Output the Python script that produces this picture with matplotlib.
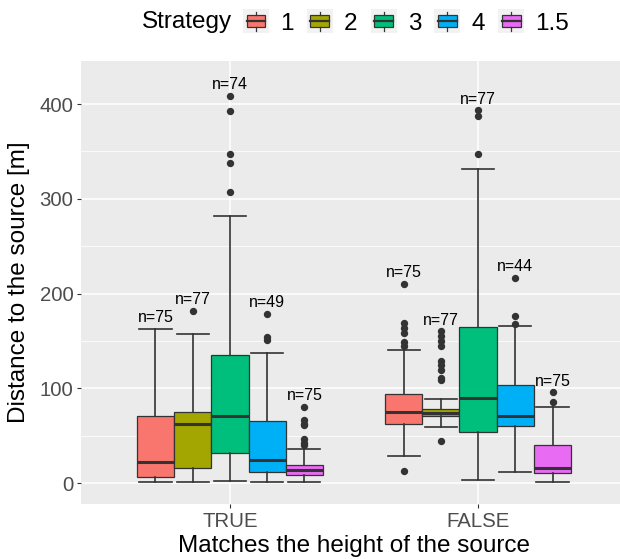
import matplotlib.pyplot as plt
from matplotlib.patches import Patch, Rectangle
from matplotlib.lines import Line2D
from matplotlib.legend_handler import HandlerBase
from matplotlib.ticker import MultipleLocator

plt.rcParams['font.family'] = ['Liberation Sans', 'DejaVu Sans']

groups = ['TRUE', 'FALSE']
strategies = ['1', '2', '3', '4', '1.5']
colors = ['#F8766D', '#A3A500', '#00BF7D', '#00B0F6', '#E76BF3']

# box summaries per group (order follows strategies)
true_q1 = [5.9, 15.8, 31.6, 11.9, 8.4]
true_med = [21.8, 62.6, 70.3, 24.6, 13.3]
true_q3 = [71.0, 74.5, 135.0, 65.0, 19.3]
true_lo = [0.7, 1.4, 2.1, 1.0, 1.0]
true_hi = [163.1, 157.8, 282.3, 137.4, 35.9]
true_out = [
    [],
    [182.0],
    [408.9, 392.7, 347.0, 337.6, 307.6],
    [178.9, 154.7, 151.2],
    [80.5, 66.8, 62.2, 61.0, 46.4, 42.2, 40.0],
]
true_n = [75, 77, 74, 49, 75]

false_q1 = [62.6, 70.7, 53.8, 60.4, 10.5]
false_med = [74.5, 73.8, 89.6, 70.3, 15.8]
false_q3 = [94.2, 78.7, 164.9, 103.0, 40.4]
false_lo = [28.1, 59.7, 2.8, 11.6, 1.0]
false_hi = [140.9, 88.6, 331.9, 166.3, 80.5]
false_out = [
    [210.2, 168.8, 163.5, 158.2, 149.4, 144.8, 13.0],
    [160.3, 155.4, 150.1, 145.2, 129.0, 124.8, 119.5, 110.7, 108.3, 44.6],
    [393.4, 387.8, 347.0],
    [216.9, 176.5, 168.0],
    [95.6, 85.8],
]
false_n = [75, 77, 77, 44, 75]

summaries = {
    'TRUE': (true_q1, true_med, true_q3, true_lo, true_hi, true_out, true_n),
    'FALSE': (false_q1, false_med, false_q3, false_lo, false_hi, false_out, false_n),
}

dark = '#333333'
fig = plt.figure(figsize=(6.2, 5.59), dpi=100)
ax = fig.add_axes([81 / 620, 1 - 504.3 / 559, 546 / 620, 443.6 / 559])
ax.set_facecolor('#EBEBEB')
for s in ax.spines.values():
    s.set_visible(False)

width = 0.15
for gi, g in enumerate(groups):
    q1, med, q3, lo, hi, out, n = summaries[g]
    stats = []
    pos = []
    for i in range(len(strategies)):
        stats.append(dict(q1=q1[i], med=med[i], q3=q3[i], whislo=lo[i],
                          whishi=hi[i], fliers=out[i]))
        pos.append(gi + 1 + (i - 2) * width)
    art = ax.bxp(stats, positions=pos, widths=width, capwidths=0.13,
                 patch_artist=True, showfliers=True,
                 boxprops=dict(edgecolor=dark, linewidth=0.9),
                 medianprops=dict(color=dark, linewidth=2.2, solid_capstyle='butt'),
                 whiskerprops=dict(color=dark, linewidth=1.2),
                 capprops=dict(color=dark, linewidth=1.2),
                 flierprops=dict(marker='o', markerfacecolor=dark,
                                 markeredgecolor='none', markersize=5.3),
                 manage_ticks=False, zorder=3)
    for patch, c in zip(art['boxes'], colors):
        patch.set_facecolor(c)
    for i in range(len(strategies)):
        top = max([hi[i]] + out[i])
        ax.annotate(f'n={n[i]}', (pos[i], top), xytext=(0, 8),
                    textcoords='offset points', ha='center', va='center',
                    fontsize=11.5, color='black', zorder=4)

ax.set_xlim(0.4, 2.6)
ax.set_ylim(-22.4, 445.8)
ax.set_xticks([1, 2])
ax.set_xticklabels(groups)
ax.yaxis.set_major_locator(MultipleLocator(100))
ax.yaxis.set_minor_locator(MultipleLocator(50))
ax.grid(which='major', color='white', linewidth=1.1, zorder=0)
ax.grid(which='minor', axis='y', color='white', linewidth=0.55, zorder=0)
ax.set_axisbelow(True)
ax.tick_params(axis='both', which='major', length=3, width=0.8, color=dark,
               labelsize=14.7, labelcolor='#4D4D4D', pad=2.5)
ax.tick_params(axis='y', which='minor', length=0)

ax.set_xlabel('Matches the height of the source', fontsize=17.5, va='baseline')
ax.xaxis.set_label_coords(0.5, -0.1075)
ax.set_ylabel('Distance to the source [m]', fontsize=17.5)
ax.yaxis.set_label_coords(-0.093, 0.5)


class BoxKey(HandlerBase):
    def create_artists(self, legend, orig_handle, xdescent, ydescent,
                       width, height, fontsize, trans):
        x0, y0 = -xdescent, -ydescent
        cx = x0 + width / 2
        bg = Rectangle((x0, y0), width, height, facecolor='#F2F2F2',
                       edgecolor='none', transform=trans)
        box = Rectangle((x0 + width * 0.14, y0 + height * 0.25), width * 0.72,
                        height * 0.5, facecolor=orig_handle.get_facecolor(),
                        edgecolor=dark, linewidth=0.9, transform=trans)
        mid = Line2D([x0 + width * 0.14, x0 + width * 0.86],
                     [y0 + height / 2] * 2, color=dark, linewidth=1.6,
                     transform=trans)
        up = Line2D([cx, cx], [y0 + height * 0.75, y0 + height * 0.9],
                    color=dark, linewidth=0.9, transform=trans)
        dn = Line2D([cx, cx], [y0 + height * 0.1, y0 + height * 0.25],
                    color=dark, linewidth=0.9, transform=trans)
        return [bg, box, mid, up, dn]


handles = [Patch(facecolor=c) for c in colors]
fig.text(142 / 620, 1 - 22 / 559, 'Strategy', fontsize=17.5,
         ha='left', va='center')
fig.legend(handles, strategies, handler_map={Patch: BoxKey()},
           loc='center left', bbox_to_anchor=(243 / 620, 1 - 22 / 559),
           ncol=5, frameon=False, fontsize=17.5, borderpad=0,
           borderaxespad=0, handlelength=1.07, handleheight=1.11,
           handletextpad=0.45, columnspacing=0.55)

fig.savefig('out.png', dpi=100)
